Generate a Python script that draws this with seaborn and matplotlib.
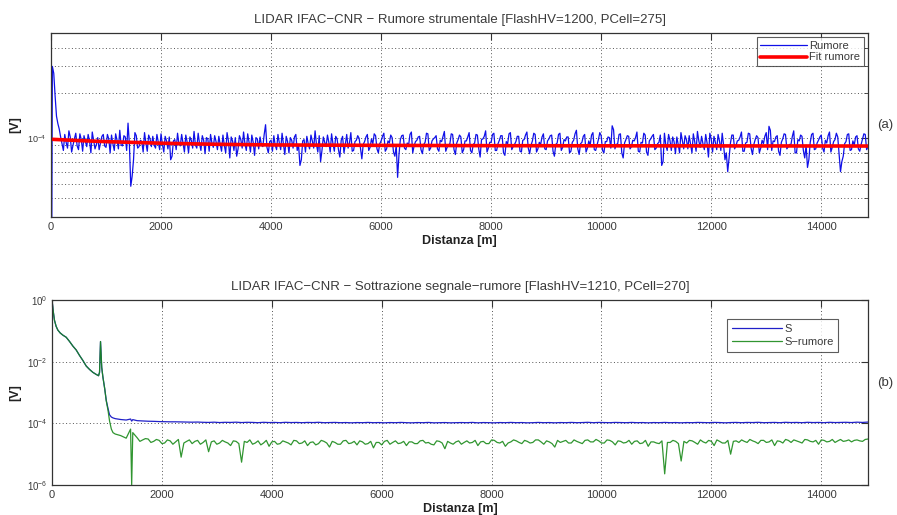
import numpy as np
import pandas as pd
import matplotlib
matplotlib.use("Agg")
import matplotlib.pyplot as plt
import matplotlib.ticker as mticker
import seaborn as sns

# ---------------- data ----------------
title_a = "LIDAR IFAC\u2212CNR \u2212 Rumore strumentale [FlashHV=1200, PCell=275]"
title_b = "LIDAR IFAC\u2212CNR \u2212 Sottrazione segnale\u2212rumore [FlashHV=1210, PCell=270]"
xticks = [0, 2000, 4000, 6000, 8000, 10000, 12000, 14000]

# Panel (a): instrumental noise, units of 1e-5 V
# samples at 0, 50, 100, ... m
noise_dist = list(range(0, 14851, 50))
noise_e5 = [
    0.1, 27, 14, 11.5, 9.2, 10.6, 8.6, 10.2, 9.0, 10.8, 8.4, 9.8, 10.4, 8.8, 9.6, 11.0, 8.5, 10.1, 9.3, 10.6,
    8.7, 9.9, 10.5, 8.3, 9.7, 11.3, 8.9, 10.2, 12.6, 4.8, 7.2, 10.4, 8.8, 9.5, 10.9, 8.2, 9.9, 10.3, 8.6, 9.4,
    10.7, 8.1, 9.6, 10.2, 7.6, 9.8, 10.8, 8.9, 9.3, 10.5, 8.0, 9.7, 11.1, 8.6, 9.2, 10.4, 7.9, 9.9, 10.6, 8.7,
    9.5, 10.3, 8.2, 9.0, 10.9, 7.4, 9.6, 10.1, 8.5, 9.8, 11.0, 8.3, 9.4, 10.5, 7.7, 9.9, 10.2, 8.8, 12.3, 8.0,
    9.7, 10.4, 8.4, 9.3, 10.8, 7.8, 9.5, 10.1, 8.6, 10.6, 9.0, 7.2, 9.8, 10.3, 8.5, 9.6, 11.2, 8.1, 7.0, 10.2,
    8.8, 9.4, 10.7, 8.2, 9.9, 7.5, 10.3, 9.1, 8.6, 10.9, 8.3, 9.7, 10.0, 7.3, 9.5, 10.6, 8.7, 9.2, 10.4, 8.0,
    9.6, 10.8, 8.5, 9.3, 10.1, 7.6, 5.5, 9.8, 10.5, 8.4, 9.0, 11.0, 8.9, 9.7, 10.3, 7.9, 9.4, 10.7, 8.6, 9.9,
    10.4, 8.2, 9.5, 11.1, 8.7, 9.2, 10.6, 7.8, 9.8, 10.2, 8.4, 9.6, 10.9, 8.0, 9.3, 10.5, 7.5, 9.9, 11.2, 8.6,
    9.4, 10.8, 8.3, 9.7, 10.4, 7.7, 9.2, 10.9, 8.8, 9.5, 10.3, 8.1, 9.8, 11.0, 7.9, 9.6, 10.6, 8.5, 9.1, 10.7,
    8.4, 9.9, 10.5, 7.6, 9.3, 10.8, 8.7, 9.6, 10.2, 8.2, 9.7, 11.3, 7.8, 9.4, 10.6, 8.6, 9.0, 10.9, 8.3, 9.8,
    10.4, 8.0, 9.5, 10.1, 12.1, 8.5, 9.2, 10.7, 7.4, 9.8, 10.3, 8.8, 9.6, 11.0, 8.1, 9.3, 10.5, 7.7, 9.9, 10.6,
    8.6, 9.4, 6.6, 10.8, 8.3, 9.7, 10.2, 7.9, 9.1, 10.9, 8.5, 9.8, 10.4, 8.0, 9.5, 11.1, 8.7, 9.2, 10.6, 7.5,
    9.9, 10.3, 8.4, 9.6, 10.8, 7.2, 6.0, 9.3, 10.5, 8.9, 9.7, 11.0, 8.2, 9.4, 10.7, 7.8, 9.8, 10.1, 8.6, 9.2,
    10.9, 12.0, 8.3, 9.5, 10.4, 7.7, 9.9, 10.6, 8.8, 9.1, 11.2, 8.0, 9.6, 10.3, 7.4, 6.4, 9.4, 10.8, 8.5, 9.7,
    10.5, 8.1, 9.3, 11.0, 8.7, 9.8, 10.2, 6.0, 7.6, 9.5, 10.7, 8.4, 9.0, 10.4, 8.2, 9.9, 10.6, 8.8,
]
# samples at 25, 75, 125, ... m
noise_mid_dist = list(range(25, 14850, 50))
noise_mid_e5 = [
    30, 19, 12.5, 10.2, 8.3, 9.4, 11.2, 8.1, 9.9, 8.9, 10.7, 8.2, 9.5, 10.6, 8.0, 9.7, 9.1, 8.4, 10.3, 8.9,
    10.6, 8.0, 9.2, 10.7, 8.5, 9.0, 10.4, 8.3, 9.1, 5.6, 10.9, 8.6, 9.7, 8.1, 9.3, 10.5, 8.8, 9.0, 10.6, 8.4,
    9.1, 10.3, 8.5, 7.2, 9.6, 8.4, 9.2, 10.6, 8.1, 9.4, 10.2, 8.6, 9.0, 10.8, 8.3, 9.7, 10.1, 8.2, 9.3, 10.4,
    8.4, 9.1, 10.5, 8.0, 9.6, 10.2, 8.3, 7.6, 10.4, 8.6, 9.2, 10.7, 8.1, 9.4, 10.1, 8.5, 9.0, 10.6, 8.7, 9.5,
    8.2, 9.0, 10.6, 8.4, 9.1, 10.3, 8.0, 9.7, 10.2, 8.3, 6.6, 9.6, 8.1, 9.2, 10.5, 8.6, 9.1, 10.4, 8.3, 9.4,
    10.5, 8.1, 9.2, 10.3, 8.4, 9.7, 8.0, 10.6, 9.3, 8.2, 9.5, 10.4, 8.6, 9.1, 10.2, 8.3, 9.9, 10.7, 8.5, 9.2,
    10.3, 8.2, 9.6, 10.5, 8.1, 9.0, 7.8, 10.4, 8.6, 9.3, 10.6, 8.0, 9.5, 10.2, 8.4, 9.1, 10.8, 8.3, 9.6, 10.1,
    8.5, 9.7, 10.3, 8.2, 9.0, 10.7, 8.4, 9.3, 10.5, 8.0, 9.6, 10.2, 8.3, 9.1, 10.6, 8.5, 9.8, 10.3, 8.1, 9.4,
    10.6, 8.3, 9.2, 10.4, 8.0, 9.5, 10.7, 8.4, 9.1, 10.3, 8.2, 9.7, 10.5, 8.6, 9.0, 10.8, 8.1, 9.4, 10.2, 8.5,
    9.6, 10.4, 8.2, 9.1, 10.6, 8.3, 9.8, 10.2, 8.0, 9.4, 10.7, 8.5, 9.2, 10.3, 8.1, 9.6, 10.5, 8.4, 9.0, 10.9,
    8.3, 9.5, 10.2, 8.6, 11.4, 9.1, 10.6, 8.0, 9.3, 10.4, 8.5, 9.7, 10.1, 8.2, 9.4, 10.8, 8.1, 9.6, 10.3, 8.4,
    9.2, 10.5, 7.0, 9.0, 10.6, 8.3, 9.5, 10.2, 8.0, 9.7, 10.4, 8.5, 9.1, 10.7, 8.2, 9.6, 10.3, 8.4, 9.3, 10.8,
    8.1, 9.4, 10.6, 8.3, 9.0, 8.0, 7.4, 10.5, 8.5, 9.6, 10.2, 8.2, 9.3, 10.8, 8.6, 9.1, 10.4, 8.0, 9.7, 10.3,
    8.4, 11.3, 9.6, 10.2, 8.2, 9.4, 10.7, 8.5, 9.1, 10.3, 8.0, 9.8, 10.5, 8.3, 9.0, 7.2, 10.6, 8.4, 9.3, 10.2,
    8.6, 9.7, 10.4, 8.1, 9.5, 10.8, 7.8, 7.0, 9.2, 10.6, 8.3, 9.6, 10.2, 8.5, 9.1, 10.7, 8.4,
]
fit_dist = [0, 500, 1000, 2000, 3000, 4000, 6000, 8000, 10000, 12000, 14850]
fit_e5 = [9.85, 9.65, 9.5, 9.27, 9.12, 9.03, 8.97, 8.93, 8.91, 8.9, 8.88]

# Panel (b): near range (shared profile), values in V
near_dist = [0, 10, 25, 45, 75, 106, 150, 200, 258, 320, 380, 440, 500, 561, 623, 683, 744,
             800, 847, 865, 875, 883, 892, 905, 926, 960, 987, 1020, 1047, 1080, 1110,
             1150, 1250, 1350, 1430, 1450, 1470]
near_s = [1.0, 0.7, 0.4, 0.22, 0.14, 0.106, 0.085, 0.072, 0.062, 0.045, 0.032, 0.024, 0.016,
          0.011, 0.0072, 0.0056, 0.0045, 0.0039, 0.0035, 0.0045, 0.018, 0.045, 0.02, 0.0065,
          0.0032, 0.0013, 5.6e-4, 3.0e-4, 1.9e-4, 1.6e-4, 1.5e-4,
          1.42e-4, 1.33e-4, 1.28e-4, 1.38e-4, 1.18e-4, 1.32e-4]
near_s_rum = [1.0, 0.7, 0.4, 0.22, 0.14, 0.106, 0.085, 0.072, 0.062, 0.045, 0.032, 0.024, 0.016,
              0.011, 0.0072, 0.0056, 0.0045, 0.0039, 0.0035, 0.0045, 0.018, 0.045, 0.02, 0.0065,
              0.0032, 0.0013, 5.4e-4, 2.6e-4, 1.2e-4, 6.5e-5, 5.0e-5,
              4.5e-5, 4.0e-5, 3.3e-5, 6.5e-5, 1.0e-6, 5.0e-5]
# far range S, one sample every 100 m from 1550 m (units 1e-4 V)
far_dist = list(range(1550, 14851, 100))
far_s_e4 = [
    1.22, 1.19, 1.17, 1.16, 1.14, 1.13, 1.12, 1.12, 1.11, 1.10,
    1.09, 1.10, 1.08, 1.07, 1.09, 1.06, 1.08, 1.07, 1.09, 1.06,
    1.08, 1.07, 1.05, 1.08, 1.06, 1.07, 1.05, 1.08, 1.06, 1.07,
    1.05, 1.07, 1.06, 1.08, 1.05, 1.06, 1.07, 1.05, 1.06, 1.04,
    1.06, 1.05, 1.07, 1.05, 1.06, 1.04, 1.06, 1.05, 1.07, 1.05,
    1.04, 1.06, 1.05, 1.07, 1.04, 1.05, 1.06, 1.04, 1.05, 1.06,
    1.05, 1.07, 1.04, 1.06, 1.05, 1.04, 1.06, 1.05, 1.07, 1.05,
    1.06, 1.04, 1.05, 1.07, 1.05, 1.06, 1.04, 1.06, 1.05, 1.07,
    1.05, 1.06, 1.08, 1.05, 1.07, 1.06, 1.05, 1.07, 1.06, 1.05,
    1.07, 1.05, 1.06, 1.04, 1.06, 1.05, 1.07, 1.05, 1.06, 1.04,
    1.06, 1.05, 1.07, 1.06, 1.05, 1.07, 1.06, 1.04, 1.06, 1.07,
    1.05, 1.07, 1.06, 1.08, 1.05, 1.06, 1.07, 1.05, 1.08, 1.06,
    1.07, 1.05, 1.08, 1.06, 1.07, 1.05, 1.08, 1.06, 1.07, 1.08,
    1.06, 1.09, 1.07, 1.10,
]
# far range S-rumore (units 1e-5 V): samples at 1550, 1650, ...
far_s_rum_e5 = [
    3.4, 2.9, 3.1, 2.6, 2.8, 2.3, 2.7, 2.5, 0.8, 2.6,
    2.2, 2.8, 2.4, 1.2, 2.7, 2.3, 2.5, 1.9, 2.6, 0.55,
    2.4, 2.1, 2.7, 2.3, 1.8, 2.6, 2.2, 2.5, 2.0, 2.7,
    2.3, 1.9, 2.5, 2.2, 2.6, 1.7, 2.4, 2.1, 2.8, 2.3,
    2.0, 2.5, 2.2, 1.6, 2.4, 2.6, 2.1, 2.7, 2.3, 1.9,
    2.5, 2.2, 2.8, 2.4, 2.0, 2.6, 1.5, 2.3, 2.5, 2.1,
    2.7, 2.4, 1.9, 2.6, 2.2, 2.8, 2.3, 1.8, 2.5, 2.7,
    2.2, 2.6, 2.4, 2.9, 2.1, 2.5, 1.7, 2.4, 2.8, 2.3,
    2.6, 2.2, 2.9, 2.5, 2.7, 2.3, 2.8, 2.0, 2.6, 2.4,
    2.1, 2.7, 2.3, 1.8, 2.5, 2.2, 0.23, 2.4, 2.6, 0.6,
    2.3, 2.7, 2.1, 2.5, 2.8, 1.9, 2.6, 2.3, 1.0, 2.7,
    2.9, 2.4, 2.7, 2.2, 2.8, 2.5, 1.9, 2.6, 3.0, 2.4,
    2.7, 2.3, 2.9, 2.5, 2.1, 2.8, 2.6, 2.4, 3.0, 2.7,
    2.5, 2.9, 2.6, 3.1,
]
# samples at 1600, 1700, ...
far_mid_dist = list(range(1600, 14801, 100))
far_mid_s_rum_e5 = [
    2.6, 3.2, 2.4, 3.0, 2.2, 2.9, 2.1, 3.0, 2.3, 2.9,
    2.6, 2.1, 2.9, 2.5, 2.1, 2.8, 2.3, 2.7, 2.2, 2.6,
    2.9, 2.3, 2.0, 2.8, 2.5, 2.1, 2.7, 2.3, 2.8, 2.2,
    2.7, 2.4, 2.0, 2.8, 2.3, 2.6, 2.1, 2.7, 2.2, 2.6,
    2.7, 2.1, 2.6, 2.4, 2.0, 2.8, 2.4, 2.2, 2.6, 2.5,
    2.2, 2.7, 2.3, 2.1, 2.7, 2.3, 2.6, 2.1, 2.7, 2.4,
    2.3, 2.8, 2.5, 2.2, 2.9, 2.4, 2.6, 2.3, 2.9, 2.4,
    2.8, 2.3, 2.9, 2.5, 2.7, 2.2, 2.8, 2.6, 2.3, 2.9,
    2.4, 2.8, 2.5, 3.0, 2.3, 2.9, 2.5, 2.7, 2.3, 2.8,
    2.6, 2.2, 2.8, 2.5, 2.3, 2.7, 2.4, 2.8, 2.2, 2.6,
    2.8, 2.4, 2.9, 2.3, 2.6, 2.9, 2.3, 2.8, 2.6, 2.4,
    2.6, 3.0, 2.5, 2.8, 2.4, 2.9, 2.7, 2.3, 2.8, 2.9,
    2.5, 3.0, 2.6, 2.8, 2.9, 2.5, 3.0, 2.7, 2.6, 2.9,
    2.8, 2.7, 3.0,
]

# ---------------- build tables ----------------
df_noise = pd.DataFrame({"d": noise_dist + noise_mid_dist,
                         "v": np.array(noise_e5 + noise_mid_e5) * 1e-5}).sort_values("d")
df_fit = pd.DataFrame({"d": fit_dist, "v": np.array(fit_e5) * 1e-5})
df_s = pd.DataFrame({"d": near_dist + far_dist,
                     "v": near_s + list(np.array(far_s_e4) * 1e-4)})
df_sr = pd.DataFrame({"d": near_dist + far_dist + far_mid_dist,
                      "v": near_s_rum + list(np.array(far_s_rum_e5 + far_mid_s_rum_e5) * 1e-5)}
                     ).sort_values("d")

# ---------------- style ----------------
sns.set_style("white")
plt.rcParams["font.family"] = ["Liberation Sans", "DejaVu Sans"]
plt.rcParams["mathtext.fontset"] = "custom"
plt.rcParams["mathtext.rm"] = "Liberation Sans"
plt.rcParams["mathtext.it"] = "Liberation Sans"

W, H = 897, 515
fig = plt.figure(figsize=(W / 100, H / 100), dpi=100)
fig.patch.set_facecolor("white")

def ax_rect(l, t, r, b):
    return [l / W, 1 - b / H, (r - l) / W, (b - t) / H]

ax1 = fig.add_axes(ax_rect(51, 33, 868, 217))
ax2 = fig.add_axes(ax_rect(52, 300, 868, 485))

txtc = "#3a3a3a"
gridkw = dict(color="#555555", linestyle=(0, (1, 2.5)), linewidth=0.7)

for ax in (ax1, ax2):
    ax.set_yscale("log")
    ax.set_xlim(0, 14850)
    ax.set_xticks(xticks)
    ax.set_xticklabels([str(t) for t in xticks])
    for s in ax.spines.values():
        s.set_color("#333333")
        s.set_linewidth(0.9)
    ax.tick_params(axis="both", which="both", direction="in", top=True, right=True,
                   labelsize=8, colors="#333333", labelcolor=txtc)
    ax.tick_params(axis="both", which="major", length=5)
    ax.tick_params(axis="both", which="minor", length=3)
    ax.set_xlabel("Distanza [m]", fontsize=9, fontweight="bold", color="#222222", labelpad=2)
    ax.set_ylabel("[V]", fontsize=9, fontweight="bold", color="#222222", labelpad=4)

# ---- panel (a)
sns.lineplot(data=df_noise, x="d", y="v", ax=ax1, color="#1010e8", linewidth=0.9,
             label="Rumore", estimator=None)
sns.lineplot(data=df_fit, x="d", y="v", ax=ax1, color="#ff0000", linewidth=2.6,
             label="Fit rumore", estimator=None)
ax1.set_ylim(3e-5, 5e-4)
ax1.yaxis.set_major_locator(mticker.FixedLocator([1e-4]))
ax1.yaxis.set_major_formatter(mticker.LogFormatterMathtext())
ax1.yaxis.set_minor_locator(mticker.LogLocator(base=10, subs=np.arange(2, 10), numticks=20))
ax1.yaxis.set_minor_formatter(mticker.NullFormatter())
ax1.tick_params(axis="y", labelsize=6.5)
ax1.grid(True, axis="x", which="major", **gridkw)
ax1.grid(True, axis="y", which="both", **gridkw)
ax1.set_axisbelow(True)
ax1.set_title(title_a, fontsize=9.5, color=txtc, pad=7)
leg1 = ax1.legend(loc="upper right", fontsize=8, frameon=True, fancybox=False,
                  borderpad=0.3, handlelength=4.2, handletextpad=0.2, labelspacing=0.15,
                  borderaxespad=0.4)
leg1.get_frame().set_edgecolor("#333333")
leg1.get_frame().set_linewidth(0.8)
for t in leg1.get_texts():
    t.set_color(txtc)
fig.text(885 / W, 1 - 125 / H, "(a)", fontsize=9.5, color=txtc, ha="center", va="center")

# ---- panel (b)
sns.lineplot(data=df_s, x="d", y="v", ax=ax2, color="#2020c8", linewidth=0.9,
             label="S", estimator=None)
sns.lineplot(data=df_sr, x="d", y="v", ax=ax2, color="#1a8a1a", linewidth=0.9,
             label="S\u2212rumore", estimator=None, alpha=0.9)
ax2.set_ylim(1e-6, 1)
ax2.yaxis.set_major_locator(mticker.FixedLocator([1e-6, 1e-4, 1e-2, 1e0]))
ax2.yaxis.set_major_formatter(mticker.LogFormatterMathtext())
ax2.yaxis.set_minor_locator(mticker.NullLocator())
ax2.tick_params(axis="y", labelsize=7)
ax2.grid(True, axis="both", which="major", **gridkw)
ax2.set_axisbelow(True)
ax2.set_title(title_b, fontsize=9.5, color=txtc, pad=7)
leg2 = ax2.legend(loc="upper right", bbox_to_anchor=(0.97, 0.925), fontsize=8, frameon=True,
                  fancybox=False, borderpad=0.4, handlelength=4.5, handletextpad=0.2,
                  labelspacing=0.3)
leg2.get_frame().set_edgecolor("#333333")
leg2.get_frame().set_linewidth(0.8)
for t in leg2.get_texts():
    t.set_color(txtc)
fig.text(885 / W, 1 - 383 / H, "(b)", fontsize=9.5, color=txtc, ha="center", va="center")

fig.savefig("out.png", dpi=100, facecolor="white")
